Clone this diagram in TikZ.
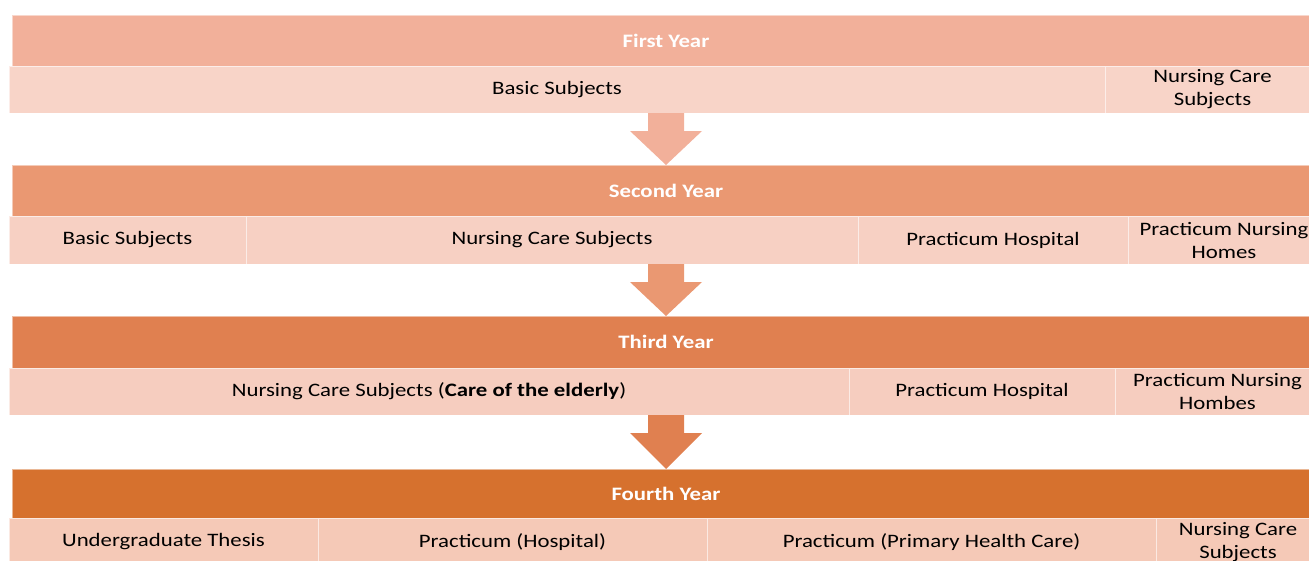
\documentclass[tikz,border=0pt]{standalone}
\usepackage{fontspec}
\setmainfont{Carlito}[FakeStretch=1.2]
\usetikzlibrary{calc}
\definecolor{hA}{HTML}{F2B09A}
\definecolor{hB}{HTML}{EA9872}
\definecolor{hC}{HTML}{E08050}
\definecolor{hD}{HTML}{D6712E}
\definecolor{sA}{HTML}{F8D4C8}
\definecolor{sB}{HTML}{F7D0C3}
\definecolor{sC}{HTML}{F6CDBF}
\definecolor{sD}{HTML}{F5C9B7}
\begin{document}
\begin{tikzpicture}[x=1pt,y=-1pt,
  every node/.style={inner sep=0pt, outer sep=0pt},
  hdr/.style={anchor=north west, minimum width=1308pt, text=white,
    font=\fontsize{19}{23}\selectfont\bfseries, draw=white, draw opacity=0.5, line width=0.8pt},
  cell/.style={anchor=north west, draw=white, draw opacity=0.6, line width=0.8pt,
    font=\fontsize{19}{23}\selectfont, align=center, text=black}]
\useasboundingbox (0,0) rectangle (1309,560);
\clip (0,0) rectangle (1309,560);

% Row 1
\node[hdr, fill=hA, minimum height=51pt] (h1) at (12,15) {First Year};
\node[cell, fill=sA, minimum width=1096pt, minimum height=47pt] (c11) at (9,66) {Basic Subjects};
\node[cell, fill=sA, minimum width=215pt, minimum height=47pt] (c12) at (1105,66) {Nursing Care\\Subjects};

% Row 2
\node[hdr, fill=hB, minimum height=51pt] (h2) at (12,165) {Second Year};
\node[cell, fill=sB, minimum width=237pt, minimum height=48pt] (c21) at (9,216) {Basic Subjects};
\node[cell, fill=sB, minimum width=612pt, minimum height=48pt] (c22) at (246,216) {Nursing Care Subjects};
\node[cell, fill=sB, minimum width=270pt, minimum height=48pt] (c23) at (858,216) {Practicum Hospital};
\node[cell, fill=sB, minimum width=192pt, minimum height=48pt] (c24) at (1128,216) {Practicum Nursing\\Homes};

% Row 3
\node[hdr, fill=hC, minimum height=52pt] (h3) at (12,316) {Third Year};
\node[cell, fill=sC, minimum width=840pt, minimum height=47pt] (c31) at (9,368) {Nursing Care Subjects (\textbf{Care of the elderly})};
\node[cell, fill=sC, minimum width=266pt, minimum height=47pt] (c32) at (849,368) {Practicum Hospital};
\node[cell, fill=sC, minimum width=205pt, minimum height=47pt] (c33) at (1115,368) {Practicum Nursing\\Hombes};

% Row 4
\node[hdr, fill=hD, minimum height=49pt] (h4) at (12,469) {Fourth Year};
\node[cell, fill=sD, minimum width=309pt, minimum height=48pt] (c41) at (9,518) {Undergraduate Thesis};
\node[cell, fill=sD, minimum width=389pt, minimum height=48pt] (c42) at (318,518) {Practicum (Hospital)};
\node[cell, fill=sD, minimum width=449pt, minimum height=48pt] (c43) at (707,518) {Practicum (Primary Health Care)};
\node[cell, fill=sD, minimum width=164pt, minimum height=48pt] (c44) at (1156,518) {Nursing Care\\Subjects};

% Block arrows
\fill[hA] let \p1=(c11.south), \p2=(h2.north) in
  (\x2-18pt,\y1) -- (\x2+18pt,\y1) -- (\x2+18pt,\y1-18pt) -- (\x2+36pt,\y1-18pt)
  -- (h2.north) -- (\x2-36pt,\y1-18pt) -- (\x2-18pt,\y1-18pt) -- cycle;
\fill[hB] let \p1=(c21.south), \p2=(h3.north) in
  (\x2-18pt,\y1) -- (\x2+18pt,\y1) -- (\x2+18pt,\y1-18pt) -- (\x2+36pt,\y1-18pt)
  -- (h3.north) -- (\x2-36pt,\y1-18pt) -- (\x2-18pt,\y1-18pt) -- cycle;
\fill[hC] let \p1=(c31.south), \p2=(h4.north) in
  (\x2-18pt,\y1) -- (\x2+18pt,\y1) -- (\x2+18pt,\y1-18pt) -- (\x2+36pt,\y1-18pt)
  -- (h4.north) -- (\x2-36pt,\y1-18pt) -- (\x2-18pt,\y1-18pt) -- cycle;
\end{tikzpicture}
\end{document}
